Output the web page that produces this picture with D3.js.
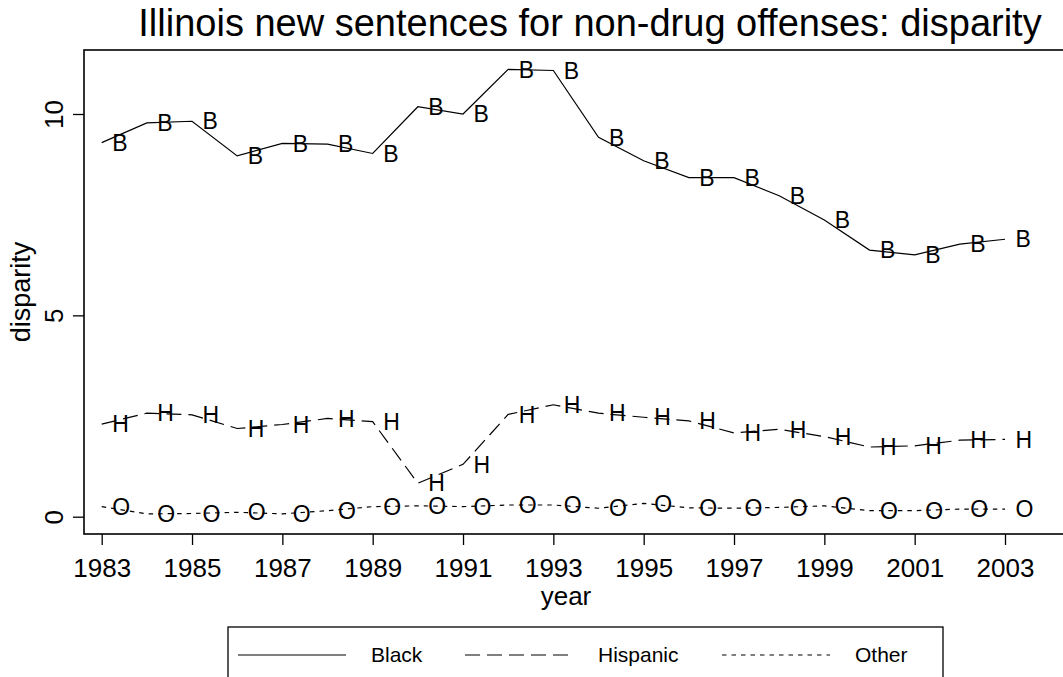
<!DOCTYPE html>
<html>
<head>
<meta charset="utf-8">
<script src="https://cdn.jsdelivr.net/npm/d3@7"></script>
<style>
  html, body { margin: 0; padding: 0; background: #fff; }
  svg { display: block; font-family: "Liberation Sans", Arial, Helvetica, sans-serif; }
</style>
</head>
<body>
<svg id="chart" width="1063" height="677"></svg>
<script>
// ---- data ----
const years = [1983,1984,1985,1986,1987,1988,1989,1990,1991,1992,1993,1994,1995,1996,1997,1998,1999,2000,2001,2002,2003];
const black = [9.29,9.78,9.82,8.96,9.27,9.25,9.02,10.18,10.0,11.11,11.08,9.42,8.84,8.42,8.42,7.97,7.37,6.62,6.50,6.77,6.89];
const hispanic = [2.30,2.57,2.53,2.19,2.29,2.44,2.36,0.83,1.30,2.54,2.78,2.57,2.47,2.38,2.08,2.17,1.99,1.73,1.76,1.90,1.92];
const other = [0.25,0.07,0.08,0.11,0.07,0.15,0.25,0.27,0.25,0.29,0.29,0.21,0.33,0.22,0.21,0.23,0.27,0.15,0.15,0.19,0.19];
const seriesNames = ["Black","Hispanic","Other"];
const markerLetters = ["B","H","O"];
const xTicks = [1983,1985,1987,1989,1991,1993,1995,1997,1999,2001,2003];
const yTicks = [0,5,10];
const titleText = "Illinois new sentences for non-drug offenses: disparity";
const xTitle = "year";
const yTitle = "disparity";

// ---- layout ----
const svg = d3.select("#chart");
const plot = {left: 84, top: 50, right: 1066, bottom: 534};
const x = d3.scaleLinear().domain([1983, 2003]).range([101.7, 1005]);
const y = d3.scaleLinear().domain([0, 10]).range([516.7, 114]);

const seriesData = [black, hispanic, other];
const dashes = [null, "15,7", "4.5,5"];

// title
svg.append("text")
  .attr("x", 590).attr("y", 36)
  .attr("text-anchor", "middle")
  .attr("font-size", 38)
  .attr("fill", "#000")
  .text(titleText);

// plot region frame
svg.append("rect")
  .attr("x", plot.left).attr("y", plot.top)
  .attr("width", plot.right - plot.left).attr("height", plot.bottom - plot.top)
  .attr("fill", "none").attr("stroke", "#000").attr("stroke-width", 1.6);

// y axis
const yAxis = d3.axisLeft(y).tickValues(yTicks).tickSize(11).tickPadding(0).tickFormat(d3.format("d"));
const gy = svg.append("g").attr("transform", `translate(${plot.left},0)`).call(yAxis);
gy.select(".domain").remove();
gy.selectAll(".tick line").attr("stroke", "#000").attr("stroke-width", 1.3);
gy.selectAll(".tick text")
  .attr("font-size", 26).attr("fill", "#000")
  .attr("font-family", "Liberation Sans, Arial, sans-serif")
  .attr("text-anchor", "middle")
  .attr("x", null).attr("dy", null)
  .attr("transform", "translate(-21,0) rotate(-90)");

// x axis
const xAxis = d3.axisBottom(x).tickValues(xTicks).tickSize(11).tickPadding(0).tickFormat(d3.format("d"));
const gx = svg.append("g").attr("transform", `translate(0,${plot.bottom})`).call(xAxis);
gx.select(".domain").remove();
gx.selectAll(".tick line").attr("stroke", "#000").attr("stroke-width", 1.3);
gx.selectAll(".tick text")
  .attr("font-size", 26).attr("fill", "#000")
  .attr("font-family", "Liberation Sans, Arial, sans-serif")
  .attr("y", 43).attr("dy", null);

// axis titles
svg.append("text")
  .attr("x", 566).attr("y", 605)
  .attr("text-anchor", "middle").attr("font-size", 26).attr("fill", "#000")
  .text(xTitle);
svg.append("text")
  .attr("transform", `translate(30,${(plot.top + plot.bottom) / 2}) rotate(-90)`)
  .attr("text-anchor", "middle").attr("font-size", 27).attr("fill", "#000")
  .text(yTitle);

// lines
const line = d3.line().x((d, i) => x(years[i])).y(d => y(d));
seriesData.forEach((vals, s) => {
  svg.append("path")
    .datum(vals)
    .attr("d", line)
    .attr("fill", "none")
    .attr("stroke", "#000")
    .attr("stroke-width", 1.2)
    .attr("stroke-dasharray", dashes[s]);
  svg.append("g").selectAll("text")
    .data(vals)
    .join("text")
    .attr("x", (d, i) => x(years[i]) + 10.5)
    .attr("y", d => y(d) + 8.2)
    .attr("font-size", 23)
    .attr("fill", "#000")
    .text(markerLetters[s]);
});

// legend
const leg = {left: 228, top: 627, right: 943, bottom: 690, cy: 655};
svg.append("rect")
  .attr("x", leg.left).attr("y", leg.top)
  .attr("width", leg.right - leg.left).attr("height", leg.bottom - leg.top)
  .attr("fill", "#fff").attr("stroke", "#000").attr("stroke-width", 1.3);
const legX = [238, 465, 722];
seriesNames.forEach((name, s) => {
  svg.append("line")
    .attr("x1", legX[s]).attr("x2", legX[s] + 108)
    .attr("y1", leg.cy).attr("y2", leg.cy)
    .attr("stroke", "#000").attr("stroke-width", 1.2)
    .attr("stroke-dasharray", dashes[s]);
  svg.append("text")
    .attr("x", legX[s] + 133).attr("y", leg.cy + 7)
    .attr("font-size", 21).attr("fill", "#000")
    .text(name);
});
</script>
</body>
</html>
